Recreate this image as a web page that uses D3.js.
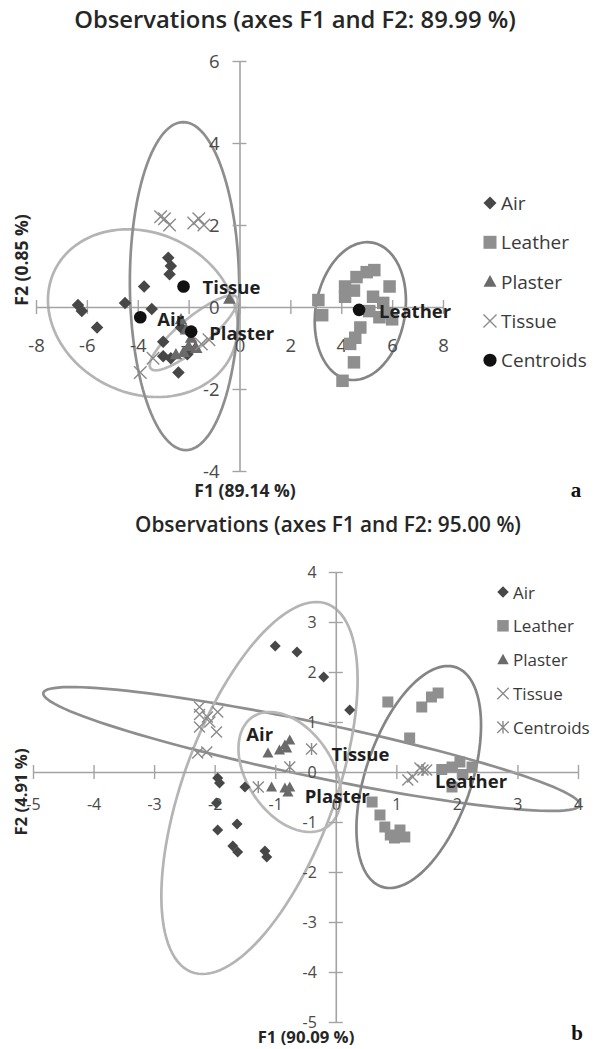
<!DOCTYPE html>
<html>
<head>
<meta charset="utf-8">
<script src="https://cdn.jsdelivr.net/npm/d3@7"></script>
<style>
  body { margin: 0; background: #fff; }
  svg { display: block; }
</style>
</head>
<body>
<div id="chart"></div>
<script>
// ---------- panel a ----------
const titleA = "Observations (axes F1 and F2: 89.99 %)";
const xTitleA = "F1 (89.14 %)";
const yTitleA = "F2 (0.85 %)";
const xTicksA = [-8, -6, -4, -2, 0, 2, 4, 6, 8];
const yTicksA = [-4, -2, 0, 2, 4, 6];

const airA = [[-6.35, 0.05], [-6.2, -0.1], [-5.6, -0.5], [-4.5, 0.1], [-3.75, 0.5], [-3.45, -0.05],
  [-2.8, 1.2], [-2.7, 1.0], [-2.75, 0.8], [-3.0, -0.85], [-3.0, -1.2], [-2.7, -1.25],
  [-2.4, -1.6], [-2.05, -1.15], [-2.3, -0.5]];
const leatherA = [[3.1, 0.17], [3.25, -0.2], [4.15, 0.5], [4.6, 0.73], [5.0, 0.85], [5.3, 0.9],
  [5.9, 0.5], [4.15, 0.25], [4.5, 0.4], [5.25, 0.25], [5.65, 0.1], [6.0, -0.3], [5.5, -0.25],
  [4.75, -0.5], [4.55, -0.75], [4.35, -0.9], [4.5, -1.35], [4.05, -1.8], [5.1, -0.1], [5.8, -0.15]];
const plasterA = [[-0.4, 0.2], [-2.3, -0.3], [-2.1, -0.55], [-1.9, -0.75], [-1.7, -1.0],
  [-2.2, -1.1], [-2.5, -1.15], [-2.0, -0.95]];
const tissueA = [[-3.1, 2.2], [-2.95, 2.15], [-2.75, 2.0], [-1.8, 2.05], [-1.6, 2.15], [-1.4, 2.0],
  [-3.9, -1.6], [-3.4, -1.25], [-1.5, -0.9], [-1.2, -0.8]];
const centroidsA = [
  { name: "Tissue", x: -2.2, y: 0.5 },
  { name: "Air", x: -3.9, y: -0.25 },
  { name: "Plaster", x: -1.9, y: -0.6 },
  { name: "Leather", x: 4.7, y: -0.07 }
];
// confidence ellipses: centre + two conjugate semi-diameters (data units)
const ellipsesA = [
  { group: "Air", cx: -3.8, cy: -0.15, ux: -3.73, uy: 0.32, vx: 0, vy: 2.02 },
  { group: "Tissue", cx: -2.16, cy: 0.51, ux: -0.05, uy: 4.0, vx: 2.15, vy: 0 },
  { group: "Plaster", cx: -1.8, cy: -0.63, ux: 1.69, uy: 0.87, vx: 0.37, vy: -0.28 },
  { group: "Leather", cx: 4.75, cy: -0.1, ux: 0.47, uy: 1.67, vx: 1.73, vy: -0.19 }
];

// ---------- panel b ----------
const titleB = "Observations (axes F1 and F2: 95.00 %)";
const xTitleB = "F1 (90.09 %)";
const yTitleB = "F2 (4.91 %)";
const xTicksB = [-5, -4, -3, -2, -1, 0, 1, 2, 3, 4];
const yTicksB = [-5, -4, -3, -2, -1, 0, 1, 2, 3, 4];

const airB = [[-1.0, 2.52], [-0.64, 2.4], [-0.2, 1.9], [0.23, 1.24], [-1.95, -0.12], [-1.92, -0.22],
  [-1.5, -0.3], [-1.97, -0.62], [-1.95, -1.16], [-1.63, -1.04], [-1.7, -1.48], [-1.62, -1.6],
  [-1.17, -1.58], [-1.14, -1.7]];
const leatherB = [[0.86, 1.4], [1.42, 1.3], [1.58, 1.5], [1.69, 1.58], [1.22, 0.68], [1.92, 0.1],
  [2.05, 0.2], [1.92, -0.3], [1.75, 0.05], [2.1, -0.05], [2.25, 0.1], [0.6, -0.6], [0.73, -0.86],
  [0.81, -1.1], [0.9, -1.26], [1.06, -1.16], [1.14, -1.3], [0.97, -1.32]];
const plasterB = [[-1.12, 0.38], [-0.93, 0.44], [-0.84, 0.54], [-0.76, 0.64], [-0.81, 0.48],
  [-1.06, -0.3], [-0.84, -0.32], [-0.76, -0.3], [-0.79, -0.4]];
const tissueB = [[-2.25, 1.3], [-2.25, 1.15], [-2.12, 1.1], [-1.95, 1.2], [-2.25, 0.9], [-2.08, 1.0],
  [-1.97, 0.8], [-2.28, 0.38], [-2.13, 0.4], [1.19, -0.16], [1.27, -0.1], [1.39, 0.08], [1.5, 0.04]];
const centroidsB = [
  { name: "Air", x: -1.28, y: -0.3 },
  { name: "Tissue", x: -0.4, y: 0.46 },
  { name: "Plaster", x: -0.76, y: 0.1 },
  { name: "Leather", x: 1.44, y: 0.04 }
];
const ellipsesB = [
  { group: "Tissue", cx: -0.4, cy: 0.46, ux: 4.43, uy: -1.12, vx: -0.09, vy: -0.53 },
  { group: "Air", cx: -1.26, cy: -0.32, ux: 0.94, uy: 3.72, vx: 1.32, vy: 0 },
  { group: "Leather", cx: 1.37, cy: -0.1, ux: 0.48, uy: 2.22, vx: 0.91, vy: 0 },
  { group: "Plaster", cx: -0.76, cy: 0, ux: -0.33, uy: 1.2, vx: 0.78, vy: 0 }
];

const legendNames = ["Air", "Leather", "Plaster", "Tissue", "Centroids"];

// ---------- styling ----------
const width = 595, height = 1049;
const font = "'Open Sans', sans-serif";
const axisColor = "#a3a3a3";
const ellipseColor = { Air: "#b4b4b4", Tissue: "#8e8e8e", Plaster: "#b8b8b8", Leather: "#858585" };
const markColor = { Air: "#474747", Leather: "#8f8f8f", Plaster: "#6a6a6a", Tissue: "#8a8a8a" };

const svg = d3.select("#chart").append("svg")
  .attr("width", width)
  .attr("height", height)
  .attr("viewBox", `0 0 ${width} ${height}`);

// marker shapes, s = nominal width in px
function markerPath(type, s) {
  const h = s / 2;
  if (type === "Air") return `M0,${-h}L${h},0L0,${h}L${-h},0Z`;
  if (type === "Leather") return `M${-h},${-h}H${h}V${h}H${-h}Z`;
  if (type === "Plaster") return `M0,${-h}L${h},${h * 0.8}L${-h},${h * 0.8}Z`;
  if (type === "Tissue") return `M${-h},${-h}L${h},${h}M${h},${-h}L${-h},${h}`;
  if (type === "Star") return `M${-h},${-h}L${h},${h}M${h},${-h}L${-h},${h}M0,${-h * 1.1}V${h * 1.1}`;
  return d3.symbol(d3.symbolCircle, s * s * 0.8)();
}
function styleMarker(sel, type) {
  if (type === "Tissue" || type === "Star") {
    sel.attr("fill", "none").attr("stroke", "#8a8a8a").attr("stroke-width", 1.4);
  } else if (type === "Centroid") {
    sel.attr("fill", "#111");
  } else {
    sel.attr("fill", markColor[type]);
  }
}

function drawPanel(p) {
  const x = d3.scaleLinear().domain(p.xDomain).range(p.xRange);
  const y = d3.scaleLinear().domain(p.yDomain).range(p.yRange);
  const g = svg.append("g");

  // title
  g.append("text")
    .attr("x", p.titlePos[0]).attr("y", p.titlePos[1])
    .attr("text-anchor", "middle").attr("dominant-baseline", "central")
    .style("font-family", font).style("font-size", p.titleSize + "px").style("font-weight", 600)
    .attr("fill", "#262626")
    .text(p.title);

  // ellipses
  const line = d3.line().x(d => x(d[0])).y(d => y(d[1])).curve(d3.curveLinearClosed);
  const angles = d3.range(0, 360, 3).map(a => a * Math.PI / 180);
  g.selectAll(".ell").data(p.ellipses).join("path")
    .attr("fill", "none")
    .attr("stroke", d => ellipseColor[d.group])
    .attr("stroke-width", 2.7)
    .attr("d", e => line(angles.map(t => [
      e.cx + e.ux * Math.cos(t) + e.vx * Math.sin(t),
      e.cy + e.uy * Math.cos(t) + e.vy * Math.sin(t)
    ])));

  // axes (crossing at 0, Excel-style cross ticks)
  const xAxis = g.append("g")
    .attr("transform", `translate(0,${y(0)})`)
    .call(d3.axisBottom(x).tickValues(p.xTicks).tickSizeOuter(0).tickFormat(d => String(d)));
  const yAxis = g.append("g")
    .attr("transform", `translate(${x(0)},0)`)
    .call(d3.axisLeft(y).tickValues(p.yTicks).tickSizeOuter(0).tickFormat(d => String(d)));
  [xAxis, yAxis].forEach(a => {
    a.select(".domain").attr("stroke", axisColor).attr("stroke-width", 1.6);
    a.selectAll(".tick line").attr("stroke", axisColor).attr("stroke-width", 1.4);
    a.selectAll(".tick text")
      .style("font-family", font).style("font-size", p.tickSize + "px")
      .attr("fill", "#4a4a4a");
  });
  xAxis.selectAll(".tick line").attr("y1", -p.tick).attr("y2", p.tick);
  xAxis.selectAll(".tick text").attr("y", p.xLabelOff).attr("dy", "0.35em");
  yAxis.selectAll(".tick line").attr("x1", -p.tick).attr("x2", p.tick);
  yAxis.selectAll(".tick text").attr("x", -p.yLabelOff).attr("dy", "0.35em");

  // axis titles
  g.append("text")
    .attr("x", p.xTitlePos[0]).attr("y", p.xTitlePos[1])
    .attr("text-anchor", "middle").attr("dominant-baseline", "central")
    .style("font-family", font).style("font-size", p.axisTitleSize + "px").style("font-weight", 700)
    .attr("fill", "#262626").text(p.xTitle);
  g.append("text")
    .attr("transform", `translate(${p.yTitlePos[0]},${p.yTitlePos[1]}) rotate(-90)`)
    .attr("text-anchor", "middle").attr("dominant-baseline", "central")
    .style("font-family", font).style("font-size", p.axisTitleSize + "px").style("font-weight", 700)
    .attr("fill", "#262626").text(p.yTitle);

  // observations
  p.series.forEach(s => {
    g.append("g").selectAll("path").data(s.data).join("path")
      .attr("transform", d => `translate(${x(d[0])},${y(d[1])})`)
      .attr("d", markerPath(s.name, p.markSize))
      .call(sel => styleMarker(sel, s.name));
  });

  // centroids + labels
  const cType = p.centroidType;
  g.append("g").selectAll("path").data(p.centroids).join("path")
    .attr("transform", d => `translate(${x(d.x)},${y(d.y)})`)
    .attr("d", markerPath(cType, p.markSize))
    .call(sel => styleMarker(sel, cType));
  g.append("g").selectAll("text").data(p.centroids).join("text")
    .attr("x", d => x(d.x) + p.labelOffsets[d.name][0])
    .attr("y", d => y(d.y) + p.labelOffsets[d.name][1])
    .attr("dominant-baseline", "central")
    .style("font-family", font).style("font-size", p.labelSize + "px").style("font-weight", 700)
    .attr("fill", "#1f1f1f")
    .text(d => d.name);

  // legend
  const lg = g.append("g");
  legendNames.forEach((name, i) => {
    const ly = p.legend.y0 + i * p.legend.step;
    const type = name === "Centroids" ? cType : name;
    lg.append("path")
      .attr("transform", `translate(${p.legend.x},${ly})`)
      .attr("d", markerPath(type, p.legend.mark))
      .call(sel => styleMarker(sel, type));
    lg.append("text")
      .attr("x", p.legend.x + p.legend.gap).attr("y", ly)
      .attr("dominant-baseline", "central")
      .style("font-family", font).style("font-size", p.legend.size + "px")
      .attr("fill", "#3a3a3a")
      .text(name);
  });

  // panel letter
  g.append("text")
    .attr("x", p.letterPos[0]).attr("y", p.letterPos[1])
    .attr("text-anchor", "middle").attr("dominant-baseline", "central")
    .style("font-family", "'Liberation Serif', serif").style("font-size", "21px").style("font-weight", 700)
    .attr("fill", "#111").text(p.letter);
}

drawPanel({
  title: titleA, titlePos: [295, 19], titleSize: 23.8,
  xDomain: [-8, 8], xRange: [36, 443],
  yDomain: [-4, 6], yRange: [471, 61],
  xTicks: xTicksA, yTicks: yTicksA, tick: 7, xLabelOff: 39, yLabelOff: 20, tickSize: 18.5,
  xTitle: xTitleA, yTitle: yTitleA, xTitlePos: [245, 490], yTitlePos: [21, 260], axisTitleSize: 17.5,
  ellipses: ellipsesA,
  series: [{ name: "Air", data: airA }, { name: "Leather", data: leatherA },
           { name: "Plaster", data: plasterA }, { name: "Tissue", data: tissueA }],
  markSize: 12.5, centroidType: "Centroid", centroids: centroidsA,
  labelSize: 18.5,
  labelOffsets: { Tissue: [19, 0], Air: [17, 1], Plaster: [18, 1], Leather: [20, 1] },
  legend: { x: 490, y0: 203, step: 39.3, gap: 11, mark: 13, size: 19 },
  letter: "a", letterPos: [576, 490]
});

drawPanel({
  title: titleB, titlePos: [328, 524], titleSize: 20.8,
  xDomain: [-5, 4], xRange: [33, 578],
  yDomain: [-5, 4], yRange: [1022, 572],
  xTicks: xTicksB, yTicks: yTicksB, tick: 7, xLabelOff: 32, yLabelOff: 19, tickSize: 16,
  xTitle: xTitleB, yTitle: yTitleB, xTitlePos: [306, 1036], yTitlePos: [20, 792], axisTitleSize: 16.7,
  ellipses: ellipsesB,
  series: [{ name: "Air", data: airB }, { name: "Leather", data: leatherB },
           { name: "Plaster", data: plasterB }, { name: "Tissue", data: tissueB }],
  markSize: 11, centroidType: "Star", centroids: centroidsB,
  labelSize: 18.5,
  labelOffsets: { Air: [-12, -54], Tissue: [20, 4], Plaster: [15, 28], Leather: [12, 10] },
  legend: { x: 503, y0: 592, step: 33.8, gap: 10, mark: 11.5, size: 17 },
  letter: "b", letterPos: [577, 1033]
});
</script>
</body>
</html>
